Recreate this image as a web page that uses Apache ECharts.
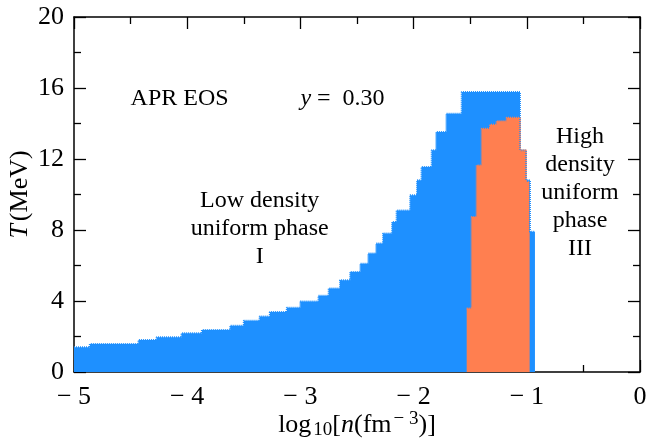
<!DOCTYPE html>
<html>
<head>
<meta charset="utf-8">
<script src="https://cdn.jsdelivr.net/npm/echarts@6/dist/echarts.min.js"></script>
<style>
* { margin: 0; padding: 0; }
#container { width: 646px; height: 441px; background: #fff; }
</style>
</head>
<body>
<div id="container"></div>
<script>
// upper edge of the mixed phase (blue), step levels start at each x
var blueX = [-5.00, -4.86, -4.43, -4.27, -4.05, -3.87, -3.62, -3.50, -3.36, -3.27,
             -3.12, -3.00, -2.84, -2.75, -2.65, -2.56, -2.47, -2.40, -2.33, -2.27,
             -2.19, -2.15, -2.03, -1.97, -1.93, -1.84, -1.80, -1.71, -1.575, -1.06,
             -1.007, -0.972, -0.928];
var blueT = [1.40, 1.58, 1.80, 1.96, 2.18, 2.37, 2.60, 2.89, 3.13, 3.38,
             3.62, 3.97, 4.30, 4.70, 5.17, 5.64, 6.10, 6.67, 7.24, 7.80,
             8.45, 9.10, 9.96, 10.80, 11.55, 12.49, 13.52, 14.55, 15.77, 12.49,
             10.80, 7.90, 7.90];
// pasta phase (orange)
var pastaX = [-1.531, -1.487, -1.443, -1.398, -1.325, -1.266, -1.178, -1.060, -1.007, -0.975];
var pastaT = [3.58, 8.73, 11.64, 13.70, 13.93, 14.13, 14.32, 12.49, 10.70, 10.70];

var xTicks = [-5, -4, -3, -2, -1, 0];
var yTicks = [0, 4, 8, 12, 16, 20];

var font = '"Liberation Serif", "Times New Roman", serif';
var chart = echarts.init(document.getElementById('container'));

function pairs(xs, ys) {
    var out = [];
    for (var i = 0; i < xs.length; i++) out.push([xs[i], ys[i]]);
    return out;
}

function tickFmt(v) {
    return v < 0 ? '\u2212 ' + Math.abs(v) : String(v);
}

var axisCommon = {
    axisLine: { show: true, onZero: false, lineStyle: { color: '#000', width: 1.5 } },
    axisTick: { show: true, inside: true, length: 12, lineStyle: { color: '#000', width: 1.3 } },
    minorTick: { show: true, splitNumber: 2, length: 7, lineStyle: { color: '#000', width: 1.3 } },
    splitLine: { show: false }
};

var option = {
    animation: false,
    grid: { left: 74, right: 6, top: 17, bottom: 69, outerBoundsMode: 'none' },
    xAxis: [
        Object.assign({
            type: 'value', min: xTicks[0], max: xTicks[xTicks.length - 1], interval: 1,
            position: 'bottom',
            axisLabel: { fontFamily: font, fontSize: 26, color: '#000', margin: 12, formatter: tickFmt },
            name: '{n|log}{s|10}{n|[}{i|n}{n|(fm}{p|\u2212 3}{n|)]}',
            nameLocation: 'middle', nameGap: 38, nameMoveOverlap: false,
            nameTextStyle: {
                verticalAlign: 'top', lineHeight: 30,
                rich: {
                    n: { fontFamily: font, fontSize: 26, color: '#000', lineHeight: 30 },
                    i: { fontFamily: font, fontSize: 26, fontStyle: 'italic', color: '#000', lineHeight: 30 },
                    s: { fontFamily: font, fontSize: 19, color: '#000', lineHeight: 30, verticalAlign: 'bottom', padding: [0, 0, 0, 2] },
                    p: { fontFamily: font, fontSize: 19, color: '#000', lineHeight: 30, verticalAlign: 'top', padding: [0, 0, 0, 2] }
                }
            }
        }, axisCommon),
        Object.assign({
            type: 'value', min: xTicks[0], max: xTicks[xTicks.length - 1], interval: 1,
            position: 'top', axisLabel: { show: false }
        }, axisCommon)
    ],
    yAxis: [
        Object.assign({
            type: 'value', min: yTicks[0], max: yTicks[yTicks.length - 1], interval: 4,
            position: 'left',
            axisLabel: { fontFamily: font, fontSize: 26, color: '#000', margin: 10 },
            name: '{i|T}{n|(MeV)}',
            nameLocation: 'middle', nameRotate: 90, nameGap: 41, nameMoveOverlap: false,
            nameTextStyle: {
                rich: {
                    n: { fontFamily: font, fontSize: 26, color: '#000' },
                    i: { fontFamily: font, fontSize: 26, fontStyle: 'italic', color: '#000', padding: [0, 3, 0, 0] }
                }
            }
        }, axisCommon),
        Object.assign({
            type: 'value', min: yTicks[0], max: yTicks[yTicks.length - 1], interval: 4,
            position: 'right', axisLabel: { show: false }
        }, axisCommon)
    ],
    series: [
        {
            type: 'line', step: 'end', symbol: 'none',
            data: pairs(blueX, blueT),
            lineStyle: { width: 2, type: [1, 1], color: '#1E90FF' },
            areaStyle: { color: '#1E90FF', opacity: 1 },
            itemStyle: { color: '#1E90FF' }
        },
        {
            type: 'line', step: 'end', symbol: 'none',
            data: pairs(pastaX, pastaT),
            lineStyle: { width: 2, type: [1, 1], color: '#FF7F50' },
            areaStyle: { color: '#FF7F50', opacity: 1 },
            itemStyle: { color: '#FF7F50' }
        }
    ]
};
chart.setOption(option);

// text annotations anchored at data positions
function px(x, y) { return chart.convertToPixel({ gridIndex: 0 }, [x, y]); }

function label(x, y, text, opts) {
    var p = px(x, y);
    return {
        type: 'text', x: p[0], y: p[1], rotation: opts && opts.rotation || 0,
        style: {
            text: text, fontFamily: font, fontSize: 24, fill: '#000',
            align: (opts && opts.align) || 'center', verticalAlign: 'middle',
            lineHeight: 28
        }
    };
}

var p2 = px(-3.0, 15.4);
chart.setOption({
    graphic: [
        label(-4.5, 15.4, 'APR EOS', { align: 'left' }),
        {
            type: 'text', x: p2[0], y: p2[1],
            style: {
                text: '{i|y}{n| =  0.30}', align: 'left', verticalAlign: 'middle',
                rich: {
                    i: { fontFamily: font, fontSize: 24, fontStyle: 'italic', fill: '#000' },
                    n: { fontFamily: font, fontSize: 24, fill: '#000' }
                }
            }
        },
        label(-3.36, 8.1, 'Low density\nuniform phase\nI'),
        label(-2.12, 3.1, 'Mixed\nphase\nII'),
        label(-1.263, 7.76, 'Pasta phase', { rotation: -Math.PI / 2 }),
        label(-0.53, 10.1, 'High\ndensity\nuniform\nphase\nIII')
    ]
});
</script>
</body>
</html>
